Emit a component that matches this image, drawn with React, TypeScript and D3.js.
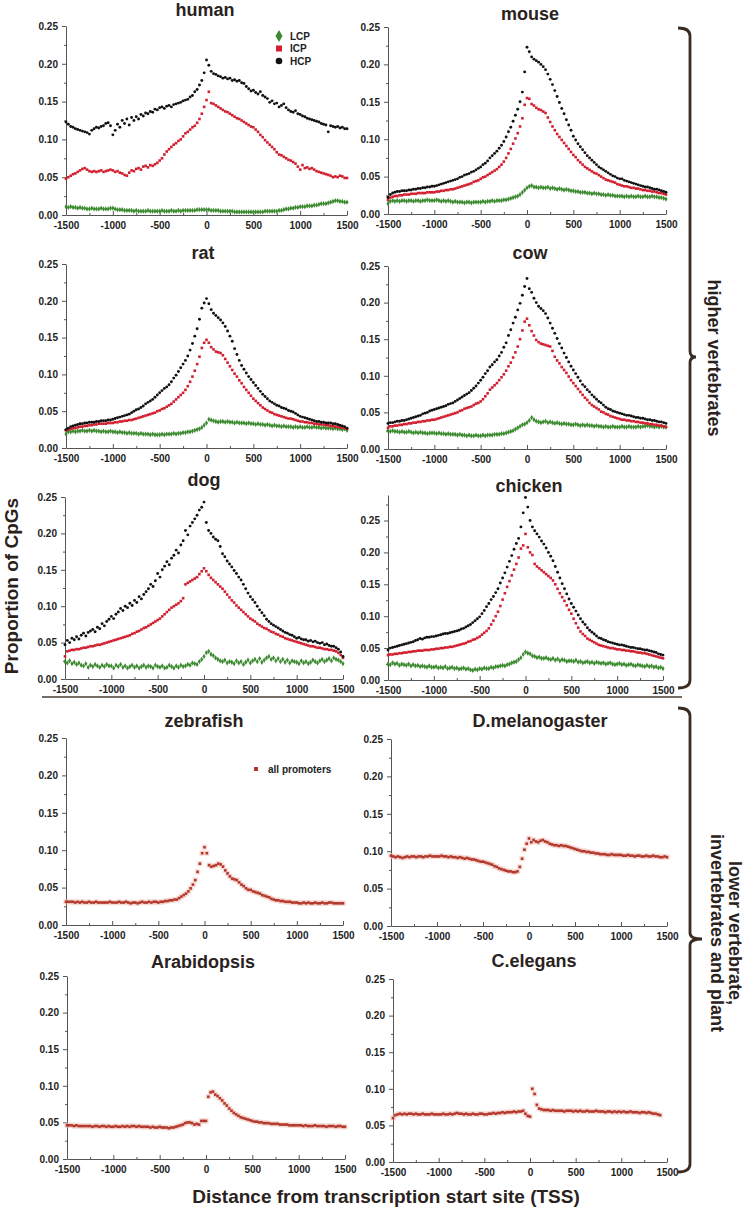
import React, { useEffect, useRef } from "react";
import * as d3 from "d3";

// distance from the TSS (bp) of every value below, one every 25 bp
const positions = d3.range(-1500, 1501, 25);
const xTickValues = [-1500, -1000, -500, 0, 500, 1000, 1500];
const xMinorTicks = [-1250, -750, -250, 250, 750, 1250];
const yTickValues = [0, 0.05, 0.1, 0.15, 0.2, 0.25];
const yMinorTicks = [0.025, 0.075, 0.125, 0.175, 0.225, 0.275];
const promoterClasses = ["LCP", "ICP", "HCP"];

// ---- human ----
const humanLCP = [
  .011,.01,.011,.01,.01,.009,.01,.009,.009,.008,.008,.009,.008,.008,.008,.009,.008,.008,.008,.009,
  .009,.008,.007,.007,.007,.006,.006,.006,.006,.005,.006,.005,.005,.005,.005,.006,.005,.005,.005,.005,
  .005,.006,.005,.005,.005,.006,.005,.005,.006,.005,.006,.006,.006,.006,.006,.006,.007,.007,.007,.007,
  .007,.007,.006,.006,.006,.006,.005,.005,.005,.005,.005,.005,.004,.004,.004,.004,.004,.004,.004,.004,
  .004,.004,.004,.004,.004,.005,.005,.005,.005,.005,.005,.006,.006,.007,.008,.008,.009,.009,.01,.01,
  .011,.011,.011,.012,.012,.012,.013,.013,.014,.015,.015,.015,.016,.017,.018,.019,.019,.018,.018,.017,
  .017,
];
const humanICP = [
  .048,.05,.052,.054,.055,.057,.059,.061,.062,.06,.058,.057,.058,.057,.058,.059,.057,.058,.059,.06,
  .059,.057,.058,.056,.055,.053,.052,.056,.059,.058,.061,.062,.06,.064,.065,.063,.066,.065,.067,.069,
  .072,.075,.08,.084,.087,.09,.093,.095,.098,.1,.104,.108,.11,.113,.116,.118,.122,.127,.134,.143,
  .152,.163,.148,.147,.145,.143,.141,.139,.137,.136,.134,.132,.13,.128,.127,.125,.123,.121,.119,.117,
  .116,.113,.11,.106,.103,.099,.096,.093,.09,.087,.083,.08,.079,.077,.075,.073,.072,.07,.068,.064,
  .06,.066,.062,.063,.061,.062,.06,.058,.057,.056,.055,.054,.053,.052,.05,.051,.05,.052,.051,.049,
  .049,
];
const humanHCP = [
  .123,.12,.117,.116,.114,.113,.112,.111,.11,.109,.107,.112,.114,.116,.115,.117,.118,.121,.122,.118,
  .106,.112,.12,.116,.125,.121,.127,.119,.129,.125,.13,.127,.133,.131,.135,.134,.137,.136,.14,.139,
  .142,.143,.141,.144,.145,.143,.146,.147,.148,.149,.151,.152,.153,.156,.158,.163,.166,.172,.178,.188,
  .205,.198,.19,.187,.186,.184,.183,.181,.182,.18,.181,.178,.179,.177,.178,.175,.174,.17,.167,.164,
  .165,.162,.16,.163,.158,.156,.154,.149,.151,.147,.148,.143,.145,.147,.142,.139,.137,.136,.138,.134,
  .133,.131,.13,.128,.127,.126,.125,.124,.123,.121,.12,.119,.11,.118,.117,.116,.117,.115,.116,.114,
  .114,
];

// ---- mouse ----
const mouseLCP = [
  .014,.017,.018,.017,.018,.017,.018,.018,.017,.018,.018,.017,.018,.018,.017,.018,.018,.019,.018,.018,
  .018,.019,.018,.017,.018,.017,.018,.017,.016,.017,.016,.016,.016,.015,.016,.016,.015,.016,.016,.016,
  .016,.017,.016,.017,.017,.018,.017,.018,.018,.018,.019,.019,.02,.021,.022,.023,.024,.026,.029,.032,
  .035,.037,.038,.036,.036,.035,.036,.035,.035,.036,.034,.035,.034,.033,.034,.033,.032,.033,.032,.031,
  .031,.03,.03,.029,.029,.029,.028,.028,.027,.028,.027,.027,.026,.026,.025,.026,.025,.025,.024,.024,
  .024,.024,.023,.024,.023,.024,.023,.023,.024,.023,.023,.024,.023,.023,.024,.023,.023,.022,.022,.021,
  .02,
];
const mouseICP = [
  .019,.022,.023,.024,.024,.025,.025,.026,.026,.026,.027,.027,.027,.028,.028,.028,.028,.029,.029,.029,
  .029,.03,.03,.031,.031,.032,.032,.033,.033,.034,.035,.036,.037,.038,.039,.04,.041,.043,.044,.045,
  .047,.049,.05,.052,.054,.056,.058,.06,.063,.066,.07,.075,.081,.087,.094,.101,.108,.117,.128,.146,
  .155,.154,.147,.145,.142,.14,.139,.137,.135,.129,.123,.117,.112,.107,.103,.099,.095,.091,.087,.083,
  .079,.076,.072,.069,.066,.063,.061,.059,.057,.055,.054,.052,.05,.048,.046,.045,.044,.043,.042,.04,
  .039,.038,.037,.037,.036,.035,.035,.034,.034,.033,.032,.032,.031,.031,.03,.03,.029,.028,.028,.027,
  .026,
];
const mouseHCP = [
  .022,.026,.028,.029,.03,.03,.031,.031,.031,.032,.032,.033,.033,.034,.034,.035,.035,.036,.036,.037,
  .037,.038,.039,.04,.041,.042,.043,.044,.045,.046,.047,.049,.05,.052,.053,.054,.056,.057,.059,.061,
  .063,.066,.068,.071,.075,.078,.081,.084,.088,.092,.097,.103,.11,.116,.124,.132,.14,.15,.163,.19,
  .223,.217,.21,.207,.205,.203,.2,.197,.193,.187,.18,.173,.165,.157,.149,.141,.134,.126,.119,.112,
  .104,.099,.094,.09,.086,.082,.078,.075,.072,.069,.066,.063,.061,.059,.057,.055,.053,.051,.05,.048,
  .047,.047,.045,.044,.043,.042,.041,.04,.039,.038,.037,.036,.036,.035,.034,.033,.033,.032,.031,.03,
  .029,
];

// ---- rat ----
const ratLCP = [
  .019,.022,.022,.023,.022,.023,.023,.024,.023,.023,.024,.023,.024,.023,.023,.022,.023,.022,.022,.023,
  .022,.022,.021,.022,.021,.021,.02,.021,.02,.02,.02,.019,.02,.019,.019,.019,.018,.019,.018,.018,
  .018,.019,.018,.019,.019,.019,.02,.019,.02,.02,.021,.021,.022,.022,.023,.024,.025,.026,.028,.031,
  .034,.039,.038,.037,.036,.035,.036,.036,.035,.036,.035,.035,.034,.035,.034,.034,.034,.033,.034,.033,
  .033,.032,.033,.032,.032,.031,.032,.031,.03,.031,.03,.03,.029,.03,.029,.029,.029,.028,.029,.028,
  .029,.028,.028,.029,.028,.028,.029,.028,.028,.027,.028,.027,.027,.027,.026,.027,.026,.026,.025,.026,
  .024,
];
const ratICP = [
  .024,.025,.026,.027,.027,.028,.029,.029,.03,.03,.031,.031,.032,.032,.033,.033,.033,.033,.034,.034,
  .034,.035,.035,.036,.036,.037,.037,.038,.038,.039,.04,.041,.042,.043,.044,.045,.046,.047,.048,.05,
  .051,.053,.054,.056,.058,.06,.063,.066,.069,.072,.075,.079,.084,.09,.097,.105,.114,.124,.136,.143,
  .147,.143,.137,.134,.131,.13,.129,.126,.121,.116,.111,.106,.101,.097,.092,.088,.083,.079,.075,.071,
  .067,.064,.061,.058,.055,.053,.051,.049,.048,.046,.045,.044,.043,.042,.041,.04,.04,.039,.038,.037,
  .036,.036,.035,.035,.034,.034,.033,.033,.032,.032,.032,.031,.031,.03,.03,.029,.029,.028,.028,.027,
  .026,
];
const ratHCP = [
  .025,.027,.029,.03,.031,.032,.033,.033,.034,.034,.035,.035,.035,.036,.036,.037,.037,.037,.038,.038,
  .039,.04,.041,.042,.043,.044,.045,.046,.048,.05,.052,.053,.055,.057,.06,.062,.064,.066,.069,.072,
  .075,.078,.081,.083,.086,.09,.095,.099,.104,.109,.114,.119,.125,.133,.142,.152,.162,.175,.19,.197,
  .203,.196,.188,.183,.18,.177,.174,.17,.165,.159,.152,.145,.135,.127,.119,.112,.107,.102,.097,.093,
  .089,.085,.081,.077,.073,.07,.067,.064,.062,.06,.058,.057,.055,.054,.053,.051,.05,.049,.047,.045,
  .043,.042,.041,.04,.039,.038,.037,.036,.036,.035,.035,.034,.034,.034,.033,.033,.032,.031,.03,.029,
  .027,
];

// ---- cow ----
const cowLCP = [
  .025,.024,.025,.024,.024,.023,.024,.023,.023,.024,.023,.022,.023,.022,.023,.022,.022,.021,.022,.022,
  .022,.021,.022,.021,.021,.02,.021,.02,.02,.02,.019,.02,.019,.019,.018,.019,.018,.018,.019,.018,
  .018,.019,.018,.019,.019,.019,.02,.02,.02,.021,.021,.022,.023,.024,.025,.027,.029,.031,.033,.034,
  .036,.039,.043,.04,.038,.037,.036,.037,.038,.036,.037,.036,.035,.036,.035,.034,.035,.034,.034,.033,
  .033,.034,.033,.032,.033,.032,.033,.032,.032,.031,.032,.031,.031,.03,.031,.03,.03,.031,.03,.03,
  .03,.031,.03,.03,.031,.03,.03,.03,.031,.03,.031,.031,.032,.031,.031,.03,.031,.03,.031,.03,
  .03,
];
const cowICP = [
  .029,.031,.031,.032,.032,.033,.033,.034,.034,.035,.035,.036,.036,.037,.037,.038,.038,.039,.039,.04,
  .04,.041,.042,.043,.044,.045,.046,.047,.048,.049,.05,.052,.053,.055,.056,.057,.058,.06,.062,.063,
  .065,.068,.072,.076,.081,.084,.087,.09,.094,.098,.102,.107,.113,.118,.125,.132,.14,.15,.162,.174,
  .178,.169,.161,.155,.149,.146,.144,.143,.142,.141,.14,.134,.126,.121,.117,.112,.108,.104,.099,.094,
  .09,.086,.082,.078,.074,.07,.067,.063,.06,.058,.056,.054,.051,.05,.048,.047,.045,.044,.043,.042,
  .041,.04,.04,.039,.039,.038,.038,.037,.037,.036,.036,.035,.035,.034,.034,.033,.033,.032,.032,.031,
  .03,
];
const cowHCP = [
  .035,.036,.036,.037,.038,.038,.039,.039,.04,.041,.042,.043,.044,.045,.046,.048,.049,.05,.052,.053,
  .054,.055,.056,.057,.058,.059,.061,.062,.063,.065,.067,.069,.071,.073,.075,.077,.08,.083,.086,.09,
  .094,.098,.103,.107,.112,.115,.119,.122,.127,.132,.139,.145,.155,.163,.172,.18,.19,.199,.21,.222,
  .233,.219,.214,.206,.2,.195,.192,.189,.185,.179,.172,.165,.158,.151,.144,.138,.131,.125,.119,.113,
  .108,.103,.098,.093,.088,.085,.081,.078,.074,.071,.068,.065,.063,.06,.057,.055,.054,.052,.051,.05,
  .049,.048,.047,.046,.046,.045,.044,.043,.043,.042,.042,.041,.04,.04,.039,.039,.038,.037,.037,.036,
  .035,
];

// ---- dog ----
const dogLCP = [
  .024,.022,.025,.021,.023,.02,.022,.019,.018,.021,.016,.019,.017,.02,.018,.016,.019,.017,.02,.018,
  .018,.015,.019,.017,.02,.016,.018,.015,.017,.019,.016,.018,.015,.017,.019,.016,.018,.017,.015,.019,
  .017,.016,.018,.015,.016,.019,.017,.015,.018,.016,.019,.017,.018,.02,.019,.022,.021,.02,.024,.027,
  .031,.036,.038,.034,.032,.029,.027,.025,.024,.026,.022,.024,.023,.021,.025,.022,.024,.02,.023,.026,
  .022,.025,.027,.024,.028,.023,.026,.029,.031,.027,.029,.025,.028,.024,.027,.023,.026,.022,.025,.024,
  .023,.021,.025,.022,.024,.021,.023,.026,.024,.022,.025,.027,.024,.026,.028,.025,.029,.027,.026,.024,
  .021,
];
const dogICP = [
  .031,.038,.039,.04,.04,.041,.041,.042,.043,.043,.044,.045,.045,.046,.047,.047,.048,.049,.05,.051,
  .052,.053,.054,.055,.056,.057,.058,.059,.06,.062,.063,.065,.066,.068,.07,.071,.073,.075,.077,.079,
  .081,.083,.086,.089,.092,.095,.098,.1,.102,.104,.107,.111,.13,.132,.134,.136,.138,.14,.144,.148,
  .152,.148,.143,.139,.136,.133,.13,.127,.124,.12,.116,.112,.108,.105,.101,.098,.095,.092,.089,.086,
  .083,.081,.079,.076,.074,.072,.07,.069,.067,.065,.064,.062,.061,.059,.058,.056,.055,.054,.053,.052,
  .051,.05,.049,.048,.047,.046,.045,.045,.044,.043,.043,.042,.041,.041,.04,.04,.039,.038,.036,.033,
  .029,
];
const dogHCP = [
  .047,.053,.05,.056,.054,.058,.055,.06,.063,.059,.064,.066,.068,.065,.071,.069,.076,.073,.079,.082,
  .086,.083,.089,.092,.097,.094,.1,.098,.104,.101,.108,.105,.113,.11,.116,.12,.124,.13,.127,.135,
  .145,.14,.15,.155,.161,.157,.166,.17,.177,.173,.184,.19,.204,.198,.21,.215,.22,.225,.232,.236,
  .243,.215,.204,.2,.195,.192,.19,.182,.172,.168,.162,.158,.154,.149,.145,.14,.136,.13,.124,.118,
  .113,.109,.105,.1,.095,.091,.087,.082,.079,.076,.074,.072,.07,.068,.066,.064,.063,.061,.06,.058,
  .056,.057,.055,.054,.054,.052,.053,.051,.052,.05,.049,.05,.047,.048,.046,.045,.045,.043,.041,.037,
  .031,
];

// ---- chicken ----
const chickenLCP = [
  .025,.024,.027,.025,.026,.023,.025,.024,.023,.025,.022,.024,.022,.023,.021,.022,.021,.02,.022,.02,
  .02,.021,.019,.02,.019,.021,.018,.019,.02,.018,.019,.017,.018,.019,.017,.018,.016,.015,.017,.016,
  .018,.017,.019,.018,.018,.02,.019,.021,.021,.022,.023,.022,.024,.025,.027,.028,.029,.032,.035,.04,
  .044,.042,.041,.038,.037,.035,.036,.034,.034,.035,.033,.032,.034,.031,.033,.03,.032,.031,.029,.03,
  .03,.029,.031,.028,.029,.027,.028,.029,.027,.028,.026,.028,.027,.026,.027,.025,.026,.027,.025,.024,
  .025,.026,.024,.025,.023,.024,.025,.023,.022,.024,.023,.022,.021,.023,.021,.022,.02,.021,.019,.02,
  .018,
];
const chickenICP = [
  .039,.04,.04,.041,.041,.042,.042,.043,.043,.044,.044,.045,.045,.046,.046,.046,.047,.047,.047,.048,
  .048,.049,.049,.05,.05,.051,.051,.052,.052,.053,.054,.055,.056,.057,.058,.06,.061,.063,.064,.066,
  .068,.071,.074,.077,.081,.087,.093,.1,.107,.116,.126,.136,.146,.155,.164,.173,.182,.192,.206,.211,
  .229,.208,.2,.196,.182,.178,.175,.172,.169,.166,.163,.16,.156,.15,.143,.136,.13,.124,.117,.11,
  .104,.096,.089,.082,.076,.072,.069,.065,.063,.061,.059,.057,.055,.054,.053,.052,.051,.05,.05,.049,
  .048,.048,.047,.047,.046,.046,.045,.045,.044,.043,.043,.042,.042,.041,.04,.039,.038,.037,.036,.035,
  .034,
];
const chickenHCP = [
  .047,.05,.051,.052,.053,.054,.055,.056,.057,.058,.059,.06,.062,.063,.065,.064,.066,.067,.067,.068,
  .068,.069,.07,.071,.072,.073,.073,.074,.075,.076,.077,.078,.08,.081,.083,.085,.087,.09,.093,.096,
  .099,.104,.109,.115,.12,.126,.131,.137,.143,.152,.16,.168,.177,.186,.195,.205,.214,.222,.24,.262,
  .286,.271,.25,.24,.234,.229,.224,.218,.213,.207,.2,.194,.187,.178,.169,.16,.151,.143,.135,.127,
  .12,.114,.108,.102,.096,.091,.087,.082,.078,.075,.072,.069,.066,.065,.063,.062,.06,.059,.058,.057,
  .056,.055,.055,.054,.053,.052,.051,.051,.05,.049,.049,.048,.047,.047,.046,.045,.044,.043,.041,.04,
  .039,
];

// ---- all promoters ----
const zebrafishAll = [
  .031,.031,.031,.031,.03,.031,.03,.031,.03,.03,.031,.03,.03,.031,.03,.03,.03,.03,.03,.031,
  .03,.03,.03,.031,.03,.03,.031,.03,.029,.03,.03,.029,.03,.031,.03,.03,.031,.03,.031,.031,
  .03,.031,.031,.032,.032,.033,.033,.034,.034,.036,.038,.04,.042,.045,.049,.054,.06,.071,.082,.096,
  .104,.096,.08,.078,.079,.08,.082,.081,.078,.073,.069,.065,.062,.061,.06,.057,.054,.052,.049,.047,
  .047,.045,.044,.043,.042,.04,.039,.038,.037,.035,.034,.033,.033,.032,.032,.031,.031,.031,.03,.03,
  .03,.029,.029,.03,.029,.03,.029,.029,.03,.029,.029,.03,.029,.029,.03,.03,.029,.029,.029,.029,
  .029,
];
const melanogasterAll = [
  .094,.093,.092,.093,.092,.091,.092,.093,.092,.093,.093,.092,.093,.093,.092,.093,.093,.094,.093,.093,
  .093,.093,.094,.093,.093,.092,.093,.092,.092,.091,.092,.091,.09,.091,.09,.089,.089,.088,.087,.086,
  .086,.085,.084,.083,.082,.08,.079,.077,.076,.075,.074,.073,.073,.072,.072,.073,.079,.09,.102,.11,
  .117,.112,.115,.113,.112,.114,.115,.113,.112,.11,.109,.108,.108,.107,.108,.107,.107,.106,.105,.104,
  .103,.102,.101,.1,.1,.099,.099,.098,.098,.097,.097,.096,.096,.096,.095,.095,.096,.095,.095,.095,
  .095,.094,.094,.095,.094,.094,.093,.094,.094,.093,.093,.094,.093,.093,.094,.093,.093,.092,.092,.093,
  .092,
];
const arabidopsisAll = [
  .046,.046,.046,.045,.046,.045,.045,.045,.045,.045,.045,.044,.045,.045,.044,.045,.045,.044,.045,.044,
  .044,.045,.044,.044,.045,.044,.045,.044,.045,.045,.044,.045,.044,.044,.044,.044,.043,.044,.043,.043,
  .044,.043,.043,.043,.042,.043,.043,.044,.045,.046,.047,.049,.05,.05,.049,.047,.048,.047,.052,.052,
  .052,.085,.091,.092,.088,.086,.083,.08,.076,.073,.069,.066,.063,.061,.059,.057,.056,.055,.054,.053,
  .052,.051,.051,.05,.05,.049,.049,.049,.048,.048,.048,.048,.047,.047,.047,.047,.046,.046,.046,.046,
  .046,.046,.045,.046,.045,.045,.045,.046,.045,.045,.045,.045,.044,.045,.045,.045,.044,.045,.045,.044,
  .044,
];
// C.elegans stops at +1425
const celegansAll = [
  .06,.064,.065,.066,.065,.066,.065,.066,.066,.065,.066,.065,.065,.066,.065,.065,.065,.066,.065,.065,
  .065,.065,.066,.065,.065,.066,.065,.066,.067,.066,.066,.065,.066,.065,.065,.066,.065,.065,.066,.066,
  .065,.065,.066,.066,.067,.066,.067,.067,.068,.067,.068,.068,.068,.069,.068,.069,.069,.07,.066,.063,
  .062,.1,.093,.078,.073,.072,.071,.071,.071,.07,.071,.07,.07,.07,.07,.069,.07,.07,.07,.069,
  .07,.069,.07,.069,.069,.07,.069,.069,.069,.07,.069,.069,.069,.068,.069,.069,.068,.069,.068,.069,
  .068,.069,.068,.068,.069,.068,.068,.068,.067,.068,.068,.067,.068,.067,.066,.066,.065,.064,
];

const FONT = "'Liberation Sans', Arial, Helvetica, sans-serif";
const INK = "#2a221c";
const colors: Record<string, string> = {
  LCP: "#3b8a2f",
  ICP: "#d21f2f",
  HCP: "#111111",
  ALL: "#b3372b",
};

type Panel = {
  title: string;
  series: [string, number[]][];
  frame: [number, number, number, number]; // left, right, top, bottom
  yMax: number;
  titlePos: [number, number];
};

const panels: Panel[] = [
  { title: "human", series: [["LCP", humanLCP], ["ICP", humanICP], ["HCP", humanHCP]], frame: [66, 347, 26, 215], yMax: 0.25, titlePos: [205, 16] },
  { title: "mouse", series: [["LCP", mouseLCP], ["ICP", mouseICP], ["HCP", mouseHCP]], frame: [388, 666, 27, 214], yMax: 0.25, titlePos: [530, 20] },
  { title: "rat", series: [["LCP", ratLCP], ["ICP", ratICP], ["HCP", ratHCP]], frame: [66, 347, 264, 448], yMax: 0.25, titlePos: [203, 259] },
  { title: "cow", series: [["LCP", cowLCP], ["ICP", cowICP], ["HCP", cowHCP]], frame: [388, 666, 266, 449], yMax: 0.25, titlePos: [530, 259] },
  { title: "dog", series: [["LCP", dogLCP], ["ICP", dogICP], ["HCP", dogHCP]], frame: [65, 343, 497, 679], yMax: 0.25, titlePos: [204, 486] },
  { title: "chicken", series: [["LCP", chickenLCP], ["ICP", chickenICP], ["HCP", chickenHCP]], frame: [388, 663, 495, 680], yMax: 0.29, titlePos: [529, 492] },
  { title: "zebrafish", series: [["ALL", zebrafishAll]], frame: [66, 343, 738, 925], yMax: 0.25, titlePos: [204, 727] },
  { title: "D.melanogaster", series: [["ALL", melanogasterAll]], frame: [391, 667, 739, 926], yMax: 0.25, titlePos: [540, 727] },
  { title: "Arabidopsis", series: [["ALL", arabidopsisAll]], frame: [67, 345, 976, 1159], yMax: 0.25, titlePos: [203, 968] },
  { title: "C.elegans", series: [["ALL", celegansAll]], frame: [393, 667, 979, 1162], yMax: 0.25, titlePos: [534, 967] },
];

function styleAxis(g: any) {
  g.attr("font-family", FONT).attr("font-size", 10).attr("font-weight", "bold").attr("color", "#555");
  g.selectAll("text").attr("fill", "#222");
}

function drawPanel(svg: any, p: Panel) {
  const [left, right, top, bottom] = p.frame;
  const x = d3.scaleLinear().domain([-1500, 1500]).range([left, right]);
  const y = d3.scaleLinear().domain([0, p.yMax]).range([bottom, top]);
  const g = svg.append("g");

  // minor ticks first, then the main axes over them
  g.append("g")
    .attr("transform", `translate(${left},0)`)
    .call(d3.axisLeft(y).tickValues(yMinorTicks.filter((v) => v < p.yMax)).tickSize(2).tickFormat(() => ""))
    .call((a: any) => a.select(".domain").remove())
    .attr("color", "#555");
  g.append("g")
    .attr("transform", `translate(0,${bottom})`)
    .call(d3.axisBottom(x).tickValues(xMinorTicks).tickSize(-2).tickFormat(() => ""))
    .call((a: any) => a.select(".domain").remove())
    .attr("color", "#555");

  g.append("g")
    .attr("transform", `translate(${left},0)`)
    .call(d3.axisLeft(y).tickValues(yTickValues).tickSize(4).tickSizeOuter(0).tickPadding(4).tickFormat(d3.format(".2f")))
    .call(styleAxis);
  g.append("g")
    .attr("transform", `translate(0,${bottom})`)
    .call(d3.axisBottom(x).tickValues(xTickValues).tickSize(-4).tickSizeOuter(0).tickPadding(7).tickFormat((d: any) => String(d)))
    .call(styleAxis);

  g.append("text")
    .attr("x", p.titlePos[0])
    .attr("y", p.titlePos[1])
    .attr("text-anchor", "middle")
    .attr("font-family", FONT)
    .attr("font-weight", "bold")
    .attr("font-size", 18)
    .attr("fill", INK)
    .text(p.title);

  p.series.forEach(([kind, values]) => {
    const pts = values.map((v, i) => ({ px: x(positions[i]), py: y(v) }));
    const dots = g.append("g").attr("fill", colors[kind]);
    if (kind === "HCP") {
      dots.selectAll("circle").data(pts).join("circle")
        .attr("cx", (d: any) => d.px).attr("cy", (d: any) => d.py).attr("r", 1.45);
    } else if (kind === "ICP") {
      dots.selectAll("rect").data(pts).join("rect")
        .attr("x", (d: any) => d.px - 1.3).attr("y", (d: any) => d.py - 1.3)
        .attr("width", 2.6).attr("height", 2.6);
    } else if (kind === "LCP") {
      const diamond = d3.symbol().type(d3.symbolDiamond).size(8);
      dots.selectAll("path").data(pts).join("path")
        .attr("transform", (d: any) => `translate(${d.px},${d.py})`)
        .attr("d", diamond() as string);
    } else {
      // soft pink halo under the brown squares
      g.insert("g", () => dots.node()).attr("fill", "#f0bdb4").attr("opacity", 0.55)
        .selectAll("rect").data(pts).join("rect")
        .attr("x", (d: any) => d.px - 2.6).attr("y", (d: any) => d.py - 2.6)
        .attr("width", 5.2).attr("height", 5.2);
      dots.selectAll("rect").data(pts).join("rect")
        .attr("x", (d: any) => d.px - 1.3).attr("y", (d: any) => d.py - 1.3)
        .attr("width", 2.6).attr("height", 2.6);
    }
  });
}

export default function App() {
  const ref = useRef<SVGSVGElement>(null);

  useEffect(() => {
    const svg = d3.select(ref.current);
    svg.selectAll("*").remove();
    svg.append("rect").attr("width", 750).attr("height", 1208).attr("fill", "#ffffff");

    panels.forEach((p) => drawPanel(svg, p));

    // legend of the human panel
    const legend = svg.append("g").attr("font-family", FONT).attr("font-weight", "bold").attr("font-size", 10).attr("fill", "#222");
    promoterClasses.forEach((c, i) => {
      const ly = 36 + i * 12.5;
      if (c === "LCP") {
        legend.append("path").attr("transform", `translate(279,${ly})`)
          .attr("d", d3.symbol().type(d3.symbolDiamond).size(42)() as string).attr("fill", colors.LCP);
      } else if (c === "ICP") {
        legend.append("rect").attr("x", 276).attr("y", ly - 3).attr("width", 6).attr("height", 6).attr("fill", colors.ICP);
      } else {
        legend.append("circle").attr("cx", 279).attr("cy", ly).attr("r", 3.3).attr("fill", colors.HCP);
      }
      legend.append("text").attr("x", 290).attr("y", ly + 3.5).text(c);
    });

    // legend of the zebrafish panel
    svg.append("rect").attr("x", 254).attr("y", 767).attr("width", 4).attr("height", 4).attr("fill", colors.ALL);
    svg.append("text").attr("x", 268).attr("y", 772.5)
      .attr("font-family", FONT).attr("font-weight", "bold").attr("font-size", 10).attr("fill", "#222")
      .text("all promoters");

    // separator between the two groups
    svg.append("line").attr("x1", 42).attr("x2", 682).attr("y1", 697).attr("y2", 697)
      .attr("stroke", "#4a3b31").attr("stroke-width", 1.5);

    // braces on the right
    const braces = [
      { top: 28, mid: 357, bottom: 688, tip: 696 },
      { top: 708, mid: 939, bottom: 1172, tip: 702 },
    ];
    braces.forEach((b) => {
      svg.append("path")
        .attr("d", `M678,${b.top} Q690,${b.top} 690,${b.top + 8} V${b.mid - 6} Q690,${b.mid} ${b.tip},${b.mid} Q690,${b.mid} 690,${b.mid + 6} V${b.bottom - 8} Q690,${b.bottom} 678,${b.bottom}`)
        .attr("fill", "none").attr("stroke", "#3b2c22").attr("stroke-width", 2.8);
    });

    const label = (t: any) => t.attr("font-family", FONT).attr("font-weight", "bold").attr("fill", INK).attr("text-anchor", "middle");

    svg.append("text").attr("transform", "translate(708,358) rotate(90)").attr("font-size", 18).call(label).text("higher vertebrates");
    const lower = svg.append("text").attr("transform", "translate(729,933) rotate(90)").attr("font-size", 18).call(label);
    lower.append("tspan").attr("x", 0).attr("dy", 0).text("lower vertebrate,");
    lower.append("tspan").attr("x", 0).attr("dy", 18).text("invertebrates and plant");

    svg.append("text").attr("transform", "translate(18,586) rotate(-90)").attr("font-size", 19).call(label).text("Proportion of CpGs");
    svg.append("text").attr("x", 386).attr("y", 1203).attr("font-size", 19).call(label)
      .text("Distance from transcription start site (TSS)");
  }, []);

  return (
    <svg
      ref={ref}
      width={750}
      height={1208}
      style={{ position: "absolute", left: 0, top: 0, display: "block" }}
    />
  );
}
